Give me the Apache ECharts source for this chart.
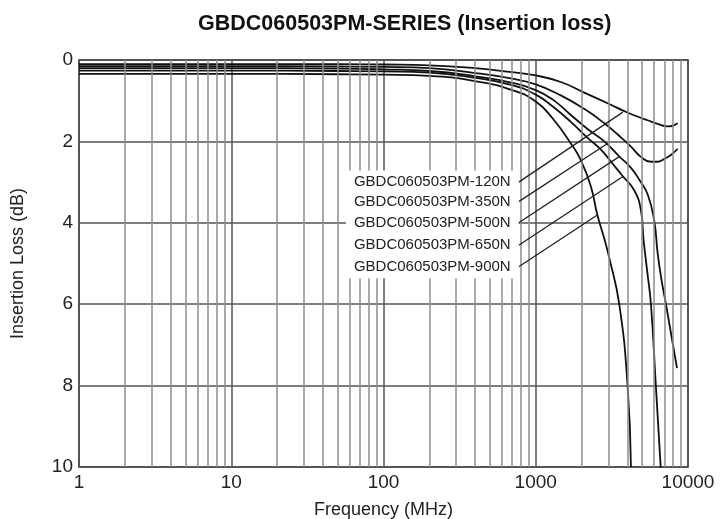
<!DOCTYPE html>
<html>
<head>
<meta charset="utf-8">
<script src="https://cdn.jsdelivr.net/npm/echarts@6/dist/echarts.min.js"></script>
<style>
  html, body { margin: 0; padding: 0; background: #fff; }
  #main { width: 720px; height: 519px; }
</style>
</head>
<body>
<div id="main"></div>
<script>
// curves: [frequency MHz, insertion loss dB]
var curve120 = [[1,0.1],[10,0.1],[50,0.1],[100,0.11],[200,0.13],[400,0.2],[700,0.3],[1000,0.38],[1460,0.54],[2080,0.8],[3113,1.1],[3780,1.25],[4500,1.37],[5430,1.48],[6300,1.57],[7350,1.63],[8000,1.61],[8550,1.55]];
var curve350 = [[1,0.15],[10,0.15],[50,0.16],[100,0.17],[200,0.2],[400,0.32],[700,0.46],[1000,0.6],[1460,0.87],[2080,1.2],[2810,1.55],[3500,1.85],[4200,2.12],[4900,2.38],[5700,2.5],[6300,2.5],[7000,2.43],[7800,2.32],[8550,2.18]];
var curve500 = [[1,0.2],[10,0.2],[50,0.21],[100,0.23],[200,0.27],[400,0.4],[700,0.56],[1000,0.74],[1300,0.98],[1700,1.35],[2200,1.7],[2820,2.0],[3516,2.36],[4220,2.65],[4800,2.95],[5430,3.3],[6000,3.95],[6320,4.75],[6700,5.4],[7165,6.0],[7800,6.8],[8470,7.57]];
var curve650 = [[1,0.26],[10,0.26],[50,0.27],[100,0.28],[200,0.31],[400,0.44],[700,0.62],[1000,0.85],[1300,1.15],[1700,1.52],[2200,1.92],[2680,2.2],[3200,2.55],[3720,2.85],[4430,3.2],[4910,3.7],[5100,4.4],[5400,5.2],[5710,6.0],[6150,8.0],[6640,10.1]];
var curve900 = [[1,0.34],[10,0.34],[50,0.35],[100,0.36],[200,0.39],[400,0.52],[700,0.74],[1000,1.02],[1300,1.45],[1700,2.05],[1978,2.46],[2300,3.1],[2540,3.81],[2800,4.35],[3035,4.85],[3535,6.0],[4010,8.0],[4220,10]];

var curves = [curve120, curve350, curve500, curve650, curve900];
var partNames = ['GBDC060503PM-120N','GBDC060503PM-350N','GBDC060503PM-500N','GBDC060503PM-650N','GBDC060503PM-900N'];
// leader lines: label anchor -> point on curve
var leaderStart = [[773,3.0],[773,3.48],[773,4.0],[773,4.55],[773,5.08]];
var leaderEnd = [[3735,1.28],[2960,2.05],[3516,2.38],[3720,2.87],[2540,3.81]];

var xTicks = [1,10,100,1000,10000];
var yTicks = [0,2,4,6,8,10];

// minor log grid lines 2..9 in every decade
var minorLines = [];
for (var d = 1; d < 10000; d *= 10) {
    for (var k = 2; k <= 9; k++) minorLines.push({xAxis: k * d});
}

var font = 'Liberation Sans, Arial, sans-serif';
var myChart = echarts.init(document.getElementById('main'));

var series = [];
// minor vertical grid
series.push({
    type: 'line',
    data: [],
    z: 1,
    silent: true,
    markLine: {
        silent: true,
        symbol: ['none','none'],
        label: {show: false},
        lineStyle: {color: '#8c8c8c', width: 1.5, type: 'solid'},
        emphasis: {disabled: true},
        animation: false,
        data: minorLines
    }
});
for (var i = 0; i < curves.length; i++) {
    series.push({
        name: partNames[i],
        type: 'line',
        data: curves[i],
        smooth: 0.5,
        symbol: 'none',
        z: 3,
        lineStyle: {color: '#111', width: 1.8}
    });
}
for (var j = 0; j < partNames.length; j++) {
    series.push({
        type: 'line',
        z: 5,
        symbol: 'circle',
        symbolSize: 0.1,
        silent: true,
        lineStyle: {color: '#222', width: 1.3},
        data: [
            {
                value: leaderStart[j],
                label: {
                    show: true,
                    position: 'left',
                    distance: 0,
                    formatter: partNames[j],
                    fontFamily: font,
                    fontSize: 15,
                    color: '#222',
                    lineHeight: 17,
                    backgroundColor: '#fff',
                    padding: [3, 8, 3, 8]
                }
            },
            leaderEnd[j]
        ]
    });
}

var option = {
    animation: false,
    backgroundColor: '#fff',
    title: {
        text: 'GBDC060503PM-SERIES (Insertion loss)',
        left: 193,
        top: 8,
        textStyle: {fontFamily: font, fontSize: 21.5, fontWeight: 'bold', color: '#111'}
    },
    grid: {
        left: 79,
        right: 32,
        top: 60,
        bottom: 52,
        outerBoundsMode: 'none',
        show: true,
        borderColor: '#222',
        borderWidth: 1.5
    },
    xAxis: {
        type: 'log',
        logBase: 10,
        min: xTicks[0],
        max: xTicks[xTicks.length - 1],
        name: 'Frequency (MHz)',
        nameLocation: 'middle',
        nameGap: 34,
        nameTextStyle: {fontFamily: font, fontSize: 18, color: '#222'},
        axisLine: {show: false},
        axisTick: {show: false},
        axisLabel: {
            margin: 6,
            fontFamily: font,
            fontSize: 19,
            color: '#222',
            formatter: function(v){ return String(Math.round(v)); }
        },
        splitLine: {show: true, lineStyle: {color: '#555', width: 1.5}}
    },
    yAxis: {
        type: 'value',
        inverse: true,
        min: yTicks[0],
        max: yTicks[yTicks.length - 1],
        interval: 2,
        name: 'Insertion Loss (dB)',
        nameLocation: 'middle',
        nameGap: 52,
        nameTextStyle: {fontFamily: font, fontSize: 18, color: '#222'},
        axisLine: {show: false},
        axisTick: {show: false},
        axisLabel: {margin: 6, fontFamily: font, fontSize: 19, color: '#222'},
        splitLine: {show: true, lineStyle: {color: '#555', width: 1.5}}
    },
    series: series
};
myChart.setOption(option);
</script>
</body>
</html>
